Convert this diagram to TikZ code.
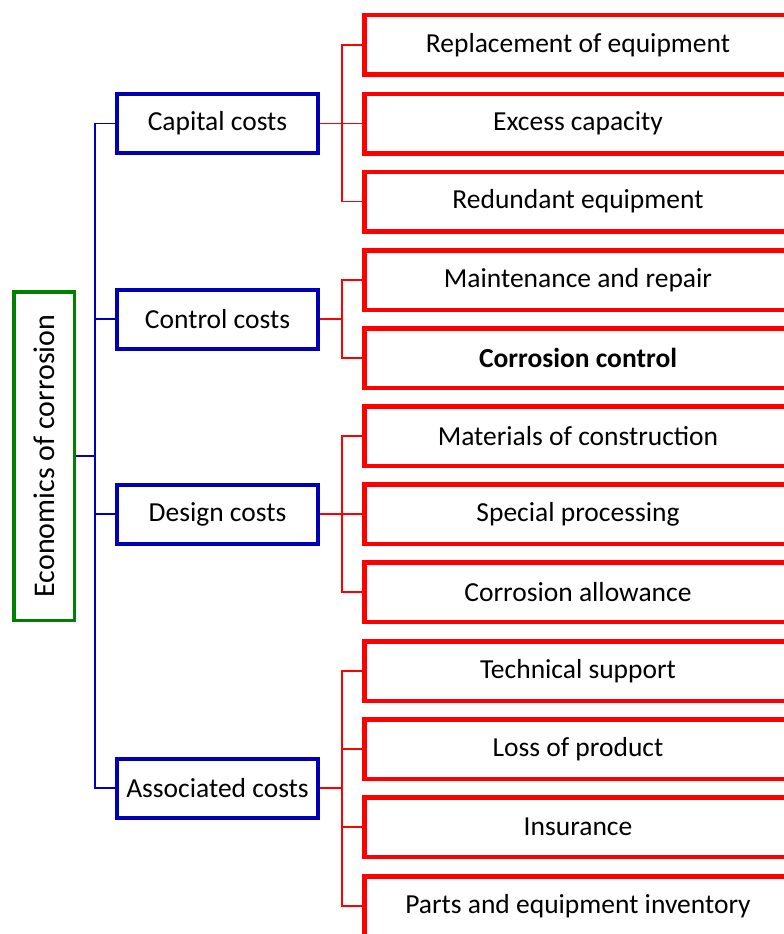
\documentclass[tikz,border=0pt]{standalone}
\usepackage{fontspec}
\setmainfont{Carlito}
\definecolor{cred}{RGB}{255,0,0}
\definecolor{cblue}{RGB}{0,0,180}
\definecolor{cgreen}{RGB}{0,128,0}
\begin{document}
\begin{tikzpicture}[x=1pt,y=-1pt,
  txt/.style={font=\fontsize{27.5}{32}\selectfont, text=black, inner sep=0pt},
  leaf/.style={txt, draw=cred, line width=4.5pt, fill=white, minimum width=427.5pt, minimum height=59.5pt},
  mid/.style={txt, draw=cblue, line width=4pt, fill=white, minimum width=201pt, minimum height=59pt},
  rootbox/.style={txt, font=\fontsize{30}{34}\selectfont, draw=cgreen, line width=3.5pt, fill=white, rotate=90, minimum width=328.5pt, minimum height=60.5pt},
  blink/.style={draw=cblue, line width=1.5pt},
  rlink/.style={draw=cred, line width=1.5pt}]
\useasboundingbox (0,0) rectangle (784,934);
\clip (0,0) rectangle (784,934);
\fill[white] (0,0) rectangle (784,934);
\coordinate (tx) at (95,0);
\coordinate (rx) at (342,0);
% root
\node[rootbox] (root) at (44,456) {Economics of corrosion};
% middle
\node[mid] (cap) at (217.5,123.5) {Capital costs};
\node[mid] (ctl) at (217.5,319) {Control costs};
\node[mid] (des) at (217.5,514) {Design costs};
\node[mid] (ass) at (217.5,788) {Associated costs};
% leaves
\node[leaf] (a1) at (578,45) {Replacement of equipment};
\node[leaf] (a2) at (578,123.5) {Excess capacity};
\node[leaf] (a3) at (578,201.5) {Redundant equipment};
\node[leaf] (b1) at (578,280) {Maintenance and repair};
\node[leaf] (b2) at (578,358) {\textbf{Corrosion control}};
\node[leaf] (c1) at (578,436) {Materials of construction};
\node[leaf] (c2) at (578,514) {Special processing};
\node[leaf] (c3) at (578,592) {Corrosion allowance};
\node[leaf] (d1) at (578,671) {Technical support};
\node[leaf] (d2) at (578,749) {Loss of product};
\node[leaf] (d3) at (578,827) {Insurance};
\node[leaf] (d4) at (578,906) {Parts and equipment inventory};
% blue links
\draw[blink] (cap.west) -- (cap.west -| tx) |- (ass.west);
\draw[blink] (ctl.west) -- (ctl.west -| tx);
\draw[blink] (des.west) -- (des.west -| tx);
\draw[blink] (root.south) -- (root.south -| tx);
% red links
\draw[rlink] (a1.west) -- (a1.west -| rx) |- (a3.west);
\draw[rlink] (cap.east) -- (a2.west);
\draw[rlink] (b1.west) -- (b1.west -| rx) |- (b2.west);
\draw[rlink] (ctl.east) -- (ctl.east -| rx);
\draw[rlink] (c1.west) -- (c1.west -| rx) |- (c3.west);
\draw[rlink] (des.east) -- (c2.west);
\draw[rlink] (d1.west) -- (d1.west -| rx) |- (d4.west);
\draw[rlink] (d2.west) -- (d2.west -| rx);
\draw[rlink] (d3.west) -- (d3.west -| rx);
\draw[rlink] (ass.east) -- (ass.east -| rx);
\end{tikzpicture}
\end{document}
